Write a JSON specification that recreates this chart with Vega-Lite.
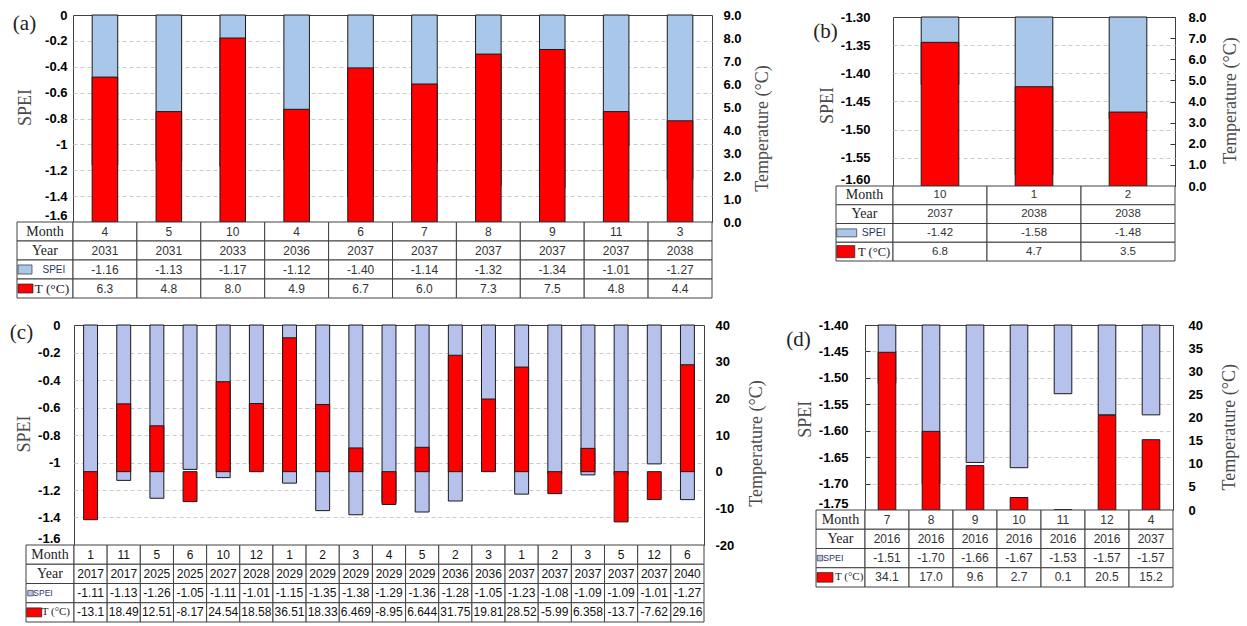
{
  "$schema": "https://vega.github.io/schema/vega-lite/v6.json",
  "padding": {"left": 7, "top": 7, "right": 0, "bottom": 0},
  "background": "white",
  "data": {"values": []},
  "datasets": {
    "a": [
      {"ym": "2031-04", "month": 4, "year": 2031, "spei": -1.16, "temp": 6.3},
      {"ym": "2031-05", "month": 5, "year": 2031, "spei": -1.13, "temp": 4.8},
      {"ym": "2033-10", "month": 10, "year": 2033, "spei": -1.17, "temp": 8.0},
      {"ym": "2036-04", "month": 4, "year": 2036, "spei": -1.12, "temp": 4.9},
      {"ym": "2037-06", "month": 6, "year": 2037, "spei": -1.40, "temp": 6.7},
      {"ym": "2037-07", "month": 7, "year": 2037, "spei": -1.14, "temp": 6.0},
      {"ym": "2037-08", "month": 8, "year": 2037, "spei": -1.32, "temp": 7.3},
      {"ym": "2037-09", "month": 9, "year": 2037, "spei": -1.34, "temp": 7.5},
      {"ym": "2037-11", "month": 11, "year": 2037, "spei": -1.01, "temp": 4.8},
      {"ym": "2038-03", "month": 3, "year": 2038, "spei": -1.27, "temp": 4.4}
    ],
    "b": [
      {"ym": "2037-10", "month": 10, "year": 2037, "spei": -1.42, "temp": 6.8},
      {"ym": "2038-01", "month": 1, "year": 2038, "spei": -1.58, "temp": 4.7},
      {"ym": "2038-02", "month": 2, "year": 2038, "spei": -1.48, "temp": 3.5}
    ],
    "c": [
      {"ym": "2017-01", "month": 1, "year": 2017, "spei": -1.11, "temp": -13.1},
      {"ym": "2017-11", "month": 11, "year": 2017, "spei": -1.13, "temp": 18.49},
      {"ym": "2025-05", "month": 5, "year": 2025, "spei": -1.26, "temp": 12.51},
      {"ym": "2025-06", "month": 6, "year": 2025, "spei": -1.05, "temp": -8.17},
      {"ym": "2027-10", "month": 10, "year": 2027, "spei": -1.11, "temp": 24.54},
      {"ym": "2028-12", "month": 12, "year": 2028, "spei": -1.01, "temp": 18.58},
      {"ym": "2029-01", "month": 1, "year": 2029, "spei": -1.15, "temp": 36.51},
      {"ym": "2029-02", "month": 2, "year": 2029, "spei": -1.35, "temp": 18.33},
      {"ym": "2029-03", "month": 3, "year": 2029, "spei": -1.38, "temp": 6.469},
      {"ym": "2029-04", "month": 4, "year": 2029, "spei": -1.29, "temp": -8.95},
      {"ym": "2029-05", "month": 5, "year": 2029, "spei": -1.36, "temp": 6.644},
      {"ym": "2036-02", "month": 2, "year": 2036, "spei": -1.28, "temp": 31.75},
      {"ym": "2036-03", "month": 3, "year": 2036, "spei": -1.05, "temp": 19.81},
      {"ym": "2037-01", "month": 1, "year": 2037, "spei": -1.23, "temp": 28.52},
      {"ym": "2037-02", "month": 2, "year": 2037, "spei": -1.08, "temp": -5.99},
      {"ym": "2037-03", "month": 3, "year": 2037, "spei": -1.09, "temp": 6.358},
      {"ym": "2037-05", "month": 5, "year": 2037, "spei": -1.09, "temp": -13.7},
      {"ym": "2037-12", "month": 12, "year": 2037, "spei": -1.01, "temp": -7.62},
      {"ym": "2040-06", "month": 6, "year": 2040, "spei": -1.27, "temp": 29.16}
    ],
    "d": [
      {"ym": "2016-07", "month": 7, "year": 2016, "spei": -1.51, "temp": 34.1},
      {"ym": "2016-08", "month": 8, "year": 2016, "spei": -1.70, "temp": 17.0},
      {"ym": "2016-09", "month": 9, "year": 2016, "spei": -1.66, "temp": 9.6},
      {"ym": "2016-10", "month": 10, "year": 2016, "spei": -1.67, "temp": 2.7},
      {"ym": "2016-11", "month": 11, "year": 2016, "spei": -1.53, "temp": 0.1},
      {"ym": "2016-12", "month": 12, "year": 2016, "spei": -1.57, "temp": 20.5},
      {"ym": "2037-04", "month": 4, "year": 2037, "spei": -1.57, "temp": 15.2}
    ]
  },
  "spacing": 6,
  "hconcat": [
    {
      "spacing": 16,
      "vconcat": [
        {
          "columns": 4, "align": "each", "bounds": "flush", "spacing": 0,
          "concat": [
            {"width": 10, "height": 8, "mark": "point"},
            {"width": 1, "height": 1, "mark": "point"},
            {"width": 1, "height": 1, "mark": "point"},
            {"width": 66, "height": 1, "mark": "point"},

            {"width": 1, "height": 1, "mark": "point"},
            {
              "width": 56, "height": 207,
              "data": {"values": [{"label": "(a)"}]},
              "mark": {"type": "text", "font": "Liberation Serif", "fontSize": 21, "dx": -20.5, "dy": -94.5, "color": "#222222"},
              "encoding": {"text": {"field": "label", "type": "nominal"}}
            },
            {
              "width": 639, "height": 207,
              "data": {"name": "a"},
              "view": {"stroke": "#404040"},
              "encoding": {"x": {"field": "ym", "type": "ordinal", "axis": null, "scale": {"paddingInner": 0.6, "paddingOuter": 0.3}}},
              "layer": [
                {
                  "mark": {"type": "bar", "fill": "#a9c7e9", "stroke": "#1a1a1a", "strokeWidth": 1},
                  "encoding": {
                    "y": {"field": "spei", "type": "quantitative", "scale": {"domain": [-1.6, 0], "nice": false, "zero": false},
                      "axis": {"orient": "left", "values": [0, -0.2, -0.4, -0.6, -0.8, -1, -1.2, -1.4, -1.6], "format": "~g", "labelPadding": 6, "grid": true,
                        "gridOpacity": {"condition": {"test": "datum.value == 0 || datum.value == -1.6", "value": 0}, "value": 1},
                        "labelBaseline": {"condition": {"test": "datum.value == -1.6", "value": "bottom"}, "value": "middle"},
                        "title": "SPEI", "titleX": -48, "titleY": 92}},
                    "y2": {"datum": 0}
                  }
                },
                {
                  "mark": {"type": "bar", "fill": "#ff0000", "stroke": "#1a1a1a", "strokeWidth": 1},
                  "encoding": {
                    "y": {"field": "temp", "type": "quantitative", "scale": {"domain": [0, 9], "nice": false},
                      "axis": {"orient": "right", "values": [0, 1, 2, 3, 4, 5, 6, 7, 8, 9], "format": ".1f", "labelPadding": 11, "grid": false,
                        "title": "Temperature (°C)", "titleX": 50, "titleY": 113}},
                    "y2": {"datum": 0}
                  }
                }
              ],
              "resolve": {"scale": {"y": "independent"}}
            },
            {"width": 1, "height": 1, "mark": "point"},

            {"width": 1, "height": 1, "mark": "point"},
            {
              "width": 56, "height": 76,
              "data": {"values": [{"row": "Month"}, {"row": "Year"}, {"row": "SPEI"}, {"row": "T (°C)"}]},
              "encoding": {"y": {"field": "row", "type": "nominal", "axis": null, "scale": {"domain": ["Month", "Year", "SPEI", "T (°C)"], "padding": 0}}},
              "layer": [
                {"mark": {"type": "rect", "fill": "#ffffff", "stroke": "#404040", "strokeWidth": 1}},
                {"transform": [{"filter": "datum.row == 'Month' || datum.row == 'Year'"}],
                 "mark": {"type": "text", "font": "Liberation Serif", "fontSize": 14, "color": "#222222"},
                 "encoding": {"text": {"field": "row", "type": "nominal"}}},
                {"transform": [{"filter": "datum.row == 'SPEI'"}],
                 "mark": {"type": "text", "font": "Liberation Sans", "fontSize": 10, "align": "left", "dx": -2.5, "color": "#1f3864"},
                 "encoding": {"text": {"field": "row", "type": "nominal"}}},
                {"transform": [{"filter": "datum.row == 'T (°C)'"}],
                 "mark": {"type": "text", "font": "Liberation Serif", "fontSize": 13.5, "align": "left", "dx": -10.5, "color": "#222222"},
                 "encoding": {"text": {"field": "row", "type": "nominal"}}},
                {"transform": [{"filter": "datum.row == 'SPEI'"}],
                 "mark": {"type": "point", "shape": "M-1,-0.65H1V0.65H-1Z", "size": 196, "filled": true, "fill": "#a9c7e9", "stroke": "#333333", "strokeWidth": 0.7, "opacity": 1, "xOffset": -20}},
                {"transform": [{"filter": "datum.row == 'T (°C)'"}],
                 "mark": {"type": "point", "shape": "M-1,-0.6H1V0.6H-1Z", "size": 225, "filled": true, "fill": "#ff0000", "stroke": "#222222", "strokeWidth": 0.7, "opacity": 1, "xOffset": -19.5}}
              ]
            },
            {
              "width": 639, "height": 76,
              "data": {"name": "a"},
              "encoding": {"x": {"field": "ym", "type": "ordinal", "axis": null, "scale": {"padding": 0}}},
              "layer": [
                {"transform": [{"fold": ["month", "year", "spei", "temp"], "as": ["row", "v"]}],
                 "mark": {"type": "rect", "fill": "#ffffff", "stroke": "#404040", "strokeWidth": 1},
                 "encoding": {"y": {"field": "row", "type": "nominal", "axis": null, "scale": {"domain": ["month", "year", "spei", "temp"], "padding": 0}}}},
                {"mark": {"type": "text", "font": "Liberation Sans", "fontSize": 12, "color": "#333333"},
                 "encoding": {"y": {"datum": "month"}, "text": {"field": "month", "type": "nominal"}}},
                {"mark": {"type": "text", "font": "Liberation Sans", "fontSize": 12, "color": "#333333"},
                 "encoding": {"y": {"datum": "year"}, "text": {"field": "year", "type": "nominal"}}},
                {"mark": {"type": "text", "font": "Liberation Sans", "fontSize": 12, "color": "#333333"},
                 "encoding": {"y": {"datum": "spei"}, "text": {"field": "spei", "type": "quantitative", "format": ".2f"}}},
                {"mark": {"type": "text", "font": "Liberation Sans", "fontSize": 12, "color": "#333333"},
                 "encoding": {"y": {"datum": "temp"}, "text": {"field": "temp", "type": "quantitative", "format": ".1f"}}}
              ]
            },
            {"width": 1, "height": 1, "mark": "point"}
          ]
        },
        {
          "columns": 4, "align": "each", "bounds": "flush", "spacing": 0,
          "concat": [
            {"width": 19, "height": 10, "mark": "point"},
            {"width": 1, "height": 1, "mark": "point"},
            {"width": 1, "height": 1, "mark": "point"},
            {"width": 60, "height": 1, "mark": "point"},

            {"width": 1, "height": 1, "mark": "point"},
            {
              "width": 48, "height": 220,
              "data": {"values": [{"label": "(c)"}]},
              "mark": {"type": "text", "font": "Liberation Serif", "fontSize": 21, "dx": -28.5, "dy": -102.5, "color": "#222222"},
              "encoding": {"text": {"field": "label", "type": "nominal"}}
            },
            {
              "width": 630, "height": 220,
              "data": {"name": "c"},
              "view": {"stroke": "#404040"},
              "encoding": {"x": {"field": "ym", "type": "ordinal", "axis": null, "scale": {"paddingInner": 0.58, "paddingOuter": 0.29}}},
              "layer": [
                {
                  "mark": {"type": "bar", "fill": "#b6c1ec", "stroke": "#1a1a1a", "strokeWidth": 1},
                  "encoding": {
                    "y": {"field": "spei", "type": "quantitative", "scale": {"domain": [-1.6, 0], "nice": false, "zero": false},
                      "axis": {"orient": "left", "values": [0, -0.2, -0.4, -0.6, -0.8, -1, -1.2, -1.4, -1.6], "format": "~g", "labelPadding": 14, "grid": true,
                        "gridOpacity": {"condition": {"test": "datum.value == 0 || datum.value == -1.6", "value": 0}, "value": 1},
                        "labelBaseline": {"condition": {"test": "datum.value == -1.6", "value": "bottom"}, "value": "middle"},
                        "title": "SPEI", "titleX": -50, "titleY": 108.5}},
                    "y2": {"datum": 0}
                  }
                },
                {
                  "mark": {"type": "bar", "fill": "#ff0000", "stroke": "#1a1a1a", "strokeWidth": 1},
                  "encoding": {
                    "y": {"field": "temp", "type": "quantitative", "scale": {"domain": [-20, 40], "nice": false, "zero": false},
                      "axis": {"orient": "right", "values": [-20, -10, 0, 10, 20, 30, 40], "format": "d", "labelPadding": 11, "grid": false,
                        "title": "Temperature (°C)", "titleX": 52.7, "titleY": 118}},
                    "y2": {"datum": 0}
                  }
                }
              ],
              "resolve": {"scale": {"y": "independent"}}
            },
            {"width": 1, "height": 1, "mark": "point"},

            {"width": 1, "height": 1, "mark": "point"},
            {
              "width": 48, "height": 77,
              "data": {"values": [{"row": "Month"}, {"row": "Year"}, {"row": "SPEI"}, {"row": "T (°C)"}]},
              "encoding": {"y": {"field": "row", "type": "nominal", "axis": null, "scale": {"domain": ["Month", "Year", "SPEI", "T (°C)"], "padding": 0}}},
              "layer": [
                {"mark": {"type": "rect", "fill": "#ffffff", "stroke": "#404040", "strokeWidth": 1}},
                {"transform": [{"filter": "datum.row == 'Month' || datum.row == 'Year'"}],
                 "mark": {"type": "text", "font": "Liberation Serif", "fontSize": 14, "color": "#222222"},
                 "encoding": {"text": {"field": "row", "type": "nominal"}}},
                {"transform": [{"filter": "datum.row == 'SPEI'"}],
                 "mark": {"type": "text", "font": "Liberation Sans", "fontSize": 8.5, "align": "left", "dx": -16.7, "color": "#1f3864"},
                 "encoding": {"text": {"field": "row", "type": "nominal"}}},
                {"transform": [{"filter": "datum.row == 'T (°C)'"}],
                 "mark": {"type": "text", "font": "Liberation Serif", "fontSize": 11, "align": "left", "dx": -8.3, "color": "#222222"},
                 "encoding": {"text": {"field": "row", "type": "nominal"}}},
                {"transform": [{"filter": "datum.row == 'SPEI'"}],
                 "mark": {"type": "point", "shape": "square", "size": 30, "filled": true, "fill": "#b6c1ec", "stroke": "#333333", "strokeWidth": 0.7, "opacity": 1, "xOffset": -19.5}},
                {"transform": [{"filter": "datum.row == 'T (°C)'"}],
                 "mark": {"type": "point", "shape": "M-1,-0.6H1V0.6H-1Z", "size": 225, "filled": true, "fill": "#ff0000", "stroke": "#222222", "strokeWidth": 0.7, "opacity": 1, "xOffset": -15.8}}
              ]
            },
            {
              "width": 630, "height": 77,
              "data": {"name": "c"},
              "encoding": {"x": {"field": "ym", "type": "ordinal", "axis": null, "scale": {"padding": 0}}},
              "layer": [
                {"transform": [{"fold": ["month", "year", "spei", "temp"], "as": ["row", "v"]}],
                 "mark": {"type": "rect", "fill": "#ffffff", "stroke": "#404040", "strokeWidth": 1},
                 "encoding": {"y": {"field": "row", "type": "nominal", "axis": null, "scale": {"domain": ["month", "year", "spei", "temp"], "padding": 0}}}},
                {"mark": {"type": "text", "font": "Liberation Sans", "fontSize": 12, "color": "#111111"},
                 "encoding": {"y": {"datum": "month"}, "text": {"field": "month", "type": "nominal"}}},
                {"mark": {"type": "text", "font": "Liberation Sans", "fontSize": 12, "color": "#111111"},
                 "encoding": {"y": {"datum": "year"}, "text": {"field": "year", "type": "nominal"}}},
                {"mark": {"type": "text", "font": "Liberation Sans", "fontSize": 12, "color": "#111111"},
                 "encoding": {"y": {"datum": "spei"}, "text": {"field": "spei", "type": "quantitative", "format": ".2f"}}},
                {"mark": {"type": "text", "font": "Liberation Sans", "fontSize": 12, "color": "#111111"},
                 "encoding": {"y": {"datum": "temp"}, "text": {"field": "temp", "type": "nominal"}}}
              ]
            },
            {"width": 1, "height": 1, "mark": "point"}
          ]
        }
      ]
    },
    {
      "spacing": 53,
      "vconcat": [
        {
          "columns": 3, "align": "each", "bounds": "flush", "spacing": 0,
          "concat": [
            {"width": 52, "height": 10, "mark": "point"},
            {"width": 1, "height": 1, "mark": "point"},
            {"width": 1, "height": 1, "mark": "point"},

            {"width": 1, "height": 1, "mark": "point"},
            {
              "width": 57, "height": 169,
              "data": {"values": [{"label": "(b)"}]},
              "mark": {"type": "text", "font": "Liberation Serif", "fontSize": 21, "dx": -39, "dy": -70, "color": "#222222"},
              "encoding": {"text": {"field": "label", "type": "nominal"}}
            },
            {
              "width": 282, "height": 169,
              "data": {"name": "b"},
              "view": {"stroke": "#404040"},
              "encoding": {"x": {"field": "ym", "type": "ordinal", "axis": null, "scale": {"paddingInner": 0.6, "paddingOuter": 0.3}}},
              "layer": [
                {
                  "mark": {"type": "bar", "fill": "#a9c7e9", "stroke": "#1a1a1a", "strokeWidth": 1},
                  "encoding": {
                    "y": {"field": "spei", "type": "quantitative", "scale": {"domain": [-1.6, -1.3], "nice": false, "zero": false},
                      "axis": {"orient": "left", "values": [-1.3, -1.35, -1.4, -1.45, -1.5, -1.55, -1.6], "format": ".2f", "labelPadding": 23, "grid": true,
                        "gridOpacity": {"condition": {"test": "datum.value == -1.3 || datum.value == -1.6", "value": 0}, "value": 1},
                        "labelBaseline": {"condition": {"test": "datum.value == -1.6", "value": "bottom"}, "value": "middle"},
                        "title": "SPEI", "titleX": -66, "titleY": 88}},
                    "y2": {"datum": -1.3}
                  }
                },
                {
                  "mark": {"type": "bar", "fill": "#ff0000", "stroke": "#1a1a1a", "strokeWidth": 1},
                  "encoding": {
                    "y": {"field": "temp", "type": "quantitative", "scale": {"domain": [0, 8], "nice": false},
                      "axis": {"orient": "right", "values": [0, 1, 2, 3, 4, 5, 6, 7, 8], "format": ".1f", "labelPadding": 18, "grid": false,
                        "ticks": true, "tickSize": -5, "tickColor": "#333333", "tickWidth": 1,
                        "title": "Temperature (°C)", "titleX": 55, "titleY": 83}},
                    "y2": {"datum": 0}
                  }
                }
              ],
              "resolve": {"scale": {"y": "independent"}}
            },

            {"width": 1, "height": 1, "mark": "point"},
            {
              "width": 57, "height": 75,
              "data": {"values": [{"row": "Month"}, {"row": "Year"}, {"row": "SPEI"}, {"row": "T (°C)"}]},
              "encoding": {"y": {"field": "row", "type": "nominal", "axis": null, "scale": {"domain": ["Month", "Year", "SPEI", "T (°C)"], "padding": 0}}},
              "layer": [
                {"mark": {"type": "rect", "fill": "#ffffff", "stroke": "#404040", "strokeWidth": 1}},
                {"transform": [{"filter": "datum.row == 'Month' || datum.row == 'Year'"}],
                 "mark": {"type": "text", "font": "Liberation Serif", "fontSize": 14, "color": "#222222"},
                 "encoding": {"text": {"field": "row", "type": "nominal"}}},
                {"transform": [{"filter": "datum.row == 'SPEI'"}],
                 "mark": {"type": "text", "font": "Liberation Sans", "fontSize": 10.5, "align": "left", "dx": -2.8, "color": "#1f3864"},
                 "encoding": {"text": {"field": "row", "type": "nominal"}}},
                {"transform": [{"filter": "datum.row == 'T (°C)'"}],
                 "mark": {"type": "text", "font": "Liberation Serif", "fontSize": 12.5, "align": "left", "dx": -6.5, "color": "#222222"},
                 "encoding": {"text": {"field": "row", "type": "nominal"}}},
                {"transform": [{"filter": "datum.row == 'SPEI'"}],
                 "mark": {"type": "point", "shape": "M-1,-0.4H1V0.4H-1Z", "size": 400, "filled": true, "fill": "#a9c7e9", "stroke": "#333333", "strokeWidth": 0.7, "opacity": 1, "xOffset": -17.8}},
                {"transform": [{"filter": "datum.row == 'T (°C)'"}],
                 "mark": {"type": "point", "shape": "M-1,-0.67H1V0.67H-1Z", "size": 324, "filled": true, "fill": "#ff0000", "stroke": "#222222", "strokeWidth": 0.7, "opacity": 1, "xOffset": -18.7}}
              ]
            },
            {
              "width": 282, "height": 75,
              "data": {"name": "b"},
              "encoding": {"x": {"field": "ym", "type": "ordinal", "axis": null, "scale": {"padding": 0}}},
              "layer": [
                {"transform": [{"fold": ["month", "year", "spei", "temp"], "as": ["row", "v"]}],
                 "mark": {"type": "rect", "fill": "#ffffff", "stroke": "#404040", "strokeWidth": 1},
                 "encoding": {"y": {"field": "row", "type": "nominal", "axis": null, "scale": {"domain": ["month", "year", "spei", "temp"], "padding": 0}}}},
                {"mark": {"type": "text", "font": "Liberation Sans", "fontSize": 11.5, "color": "#333333"},
                 "encoding": {"y": {"datum": "month"}, "text": {"field": "month", "type": "nominal"}}},
                {"mark": {"type": "text", "font": "Liberation Sans", "fontSize": 11.5, "color": "#333333"},
                 "encoding": {"y": {"datum": "year"}, "text": {"field": "year", "type": "nominal"}}},
                {"mark": {"type": "text", "font": "Liberation Sans", "fontSize": 11.5, "color": "#333333"},
                 "encoding": {"y": {"datum": "spei"}, "text": {"field": "spei", "type": "quantitative", "format": ".2f"}}},
                {"mark": {"type": "text", "font": "Liberation Sans", "fontSize": 11.5, "color": "#333333"},
                 "encoding": {"y": {"datum": "temp"}, "text": {"field": "temp", "type": "quantitative", "format": ".1f"}}}
              ]
            }
          ]
        },
        {
          "columns": 3, "align": "each", "bounds": "flush", "spacing": 0,
          "concat": [
            {"width": 32, "height": 10, "mark": "point"},
            {"width": 1, "height": 1, "mark": "point"},
            {"width": 1, "height": 1, "mark": "point"},

            {"width": 1, "height": 1, "mark": "point"},
            {
              "width": 49, "height": 185,
              "data": {"values": [{"label": "(d)"}]},
              "mark": {"type": "text", "font": "Liberation Serif", "fontSize": 21, "dx": -42, "dy": -78, "color": "#222222"},
              "encoding": {"text": {"field": "label", "type": "nominal"}}
            },
            {
              "width": 308, "height": 185,
              "data": {"name": "d"},
              "view": {"stroke": "#404040"},
              "encoding": {"x": {"field": "ym", "type": "ordinal", "axis": null, "scale": {"paddingInner": 0.6, "paddingOuter": 0.3}}},
              "layer": [
                {
                  "mark": {"type": "bar", "fill": "#b6c1ec", "stroke": "#1a1a1a", "strokeWidth": 1},
                  "encoding": {
                    "y": {"field": "spei", "type": "quantitative", "scale": {"domain": [-1.75, -1.4], "nice": false, "zero": false},
                      "axis": {"orient": "left", "values": [-1.4, -1.45, -1.5, -1.55, -1.6, -1.65, -1.7, -1.75], "format": ".2f", "labelPadding": 22, "grid": true,
                        "ticks": true, "tickSize": -5, "tickColor": "#333333", "tickWidth": 1,
                        "gridOpacity": {"condition": {"test": "datum.value == -1.4 || datum.value == -1.75", "value": 0}, "value": 1},
                        "labelBaseline": {"condition": {"test": "datum.value == -1.75", "value": "bottom"}, "value": "middle"},
                        "title": "SPEI", "titleX": -60, "titleY": 93.7}},
                    "y2": {"datum": -1.4}
                  }
                },
                {
                  "mark": {"type": "bar", "fill": "#ff0000", "stroke": "#1a1a1a", "strokeWidth": 1},
                  "encoding": {
                    "y": {"field": "temp", "type": "quantitative", "scale": {"domain": [0, 40], "nice": false},
                      "axis": {"orient": "right", "values": [0, 5, 10, 15, 20, 25, 30, 35, 40], "format": "d", "labelPadding": 15, "grid": false,
                        "title": "Temperature (°C)", "titleX": 56, "titleY": 101.7}},
                    "y2": {"datum": 0}
                  }
                }
              ],
              "resolve": {"scale": {"y": "independent"}}
            },

            {"width": 1, "height": 1, "mark": "point"},
            {
              "width": 49, "height": 77,
              "data": {"values": [{"row": "Month"}, {"row": "Year"}, {"row": "SPEI"}, {"row": "T (°C)"}]},
              "encoding": {"y": {"field": "row", "type": "nominal", "axis": null, "scale": {"domain": ["Month", "Year", "SPEI", "T (°C)"], "padding": 0}}},
              "layer": [
                {"mark": {"type": "rect", "fill": "#ffffff", "stroke": "#404040", "strokeWidth": 1}},
                {"transform": [{"filter": "datum.row == 'Month' || datum.row == 'Year'"}],
                 "mark": {"type": "text", "font": "Liberation Serif", "fontSize": 14, "color": "#222222"},
                 "encoding": {"text": {"field": "row", "type": "nominal"}}},
                {"transform": [{"filter": "datum.row == 'SPEI'"}],
                 "mark": {"type": "text", "font": "Liberation Sans", "fontSize": 9, "align": "left", "dx": -17.5, "color": "#1f3864"},
                 "encoding": {"text": {"field": "row", "type": "nominal"}}},
                {"transform": [{"filter": "datum.row == 'T (°C)'"}],
                 "mark": {"type": "text", "font": "Liberation Serif", "fontSize": 11, "align": "left", "dx": -5.5, "color": "#222222"},
                 "encoding": {"text": {"field": "row", "type": "nominal"}}},
                {"transform": [{"filter": "datum.row == 'SPEI'"}],
                 "mark": {"type": "point", "shape": "square", "size": 30, "filled": true, "fill": "#b6c1ec", "stroke": "#333333", "strokeWidth": 0.7, "opacity": 1, "xOffset": -20.5}},
                {"transform": [{"filter": "datum.row == 'T (°C)'"}],
                 "mark": {"type": "point", "shape": "M-1,-0.6H1V0.6H-1Z", "size": 256, "filled": true, "fill": "#ff0000", "stroke": "#222222", "strokeWidth": 0.7, "opacity": 1, "xOffset": -15.5}}
              ]
            },
            {
              "width": 308, "height": 77,
              "data": {"name": "d"},
              "encoding": {"x": {"field": "ym", "type": "ordinal", "axis": null, "scale": {"padding": 0}}},
              "layer": [
                {"transform": [{"fold": ["month", "year", "spei", "temp"], "as": ["row", "v"]}],
                 "mark": {"type": "rect", "fill": "#ffffff", "stroke": "#404040", "strokeWidth": 1},
                 "encoding": {"y": {"field": "row", "type": "nominal", "axis": null, "scale": {"domain": ["month", "year", "spei", "temp"], "padding": 0}}}},
                {"mark": {"type": "text", "font": "Liberation Sans", "fontSize": 12, "color": "#333333"},
                 "encoding": {"y": {"datum": "month"}, "text": {"field": "month", "type": "nominal"}}},
                {"mark": {"type": "text", "font": "Liberation Sans", "fontSize": 12, "color": "#333333"},
                 "encoding": {"y": {"datum": "year"}, "text": {"field": "year", "type": "nominal"}}},
                {"mark": {"type": "text", "font": "Liberation Sans", "fontSize": 12, "color": "#333333"},
                 "encoding": {"y": {"datum": "spei"}, "text": {"field": "spei", "type": "quantitative", "format": ".2f"}}},
                {"mark": {"type": "text", "font": "Liberation Sans", "fontSize": 12, "color": "#333333"},
                 "encoding": {"y": {"datum": "temp"}, "text": {"field": "temp", "type": "quantitative", "format": ".1f"}}}
              ]
            }
          ]
        }
      ]
    }
  ],
  "config": {
    "view": {"stroke": null},
    "locale": {"number": {"decimal": ".", "thousands": ",", "grouping": [3], "currency": ["$", ""], "minus": "-"}},
    "axis": {
      "labelFont": "Liberation Sans", "labelFontSize": 13, "labelFontWeight": "bold", "labelColor": "#000000",
      "ticks": false, "domain": false, "labelOverlap": false,
      "gridColor": "#cccccc", "gridDash": [4, 3], "gridWidth": 1,
      "titleFont": "Liberation Serif", "titleFontSize": 18, "titleFontWeight": "normal", "titleColor": "#4a4a4a",
      "titleAngle": -90, "titleAlign": "center", "titleBaseline": "middle"
    }
  }
}
